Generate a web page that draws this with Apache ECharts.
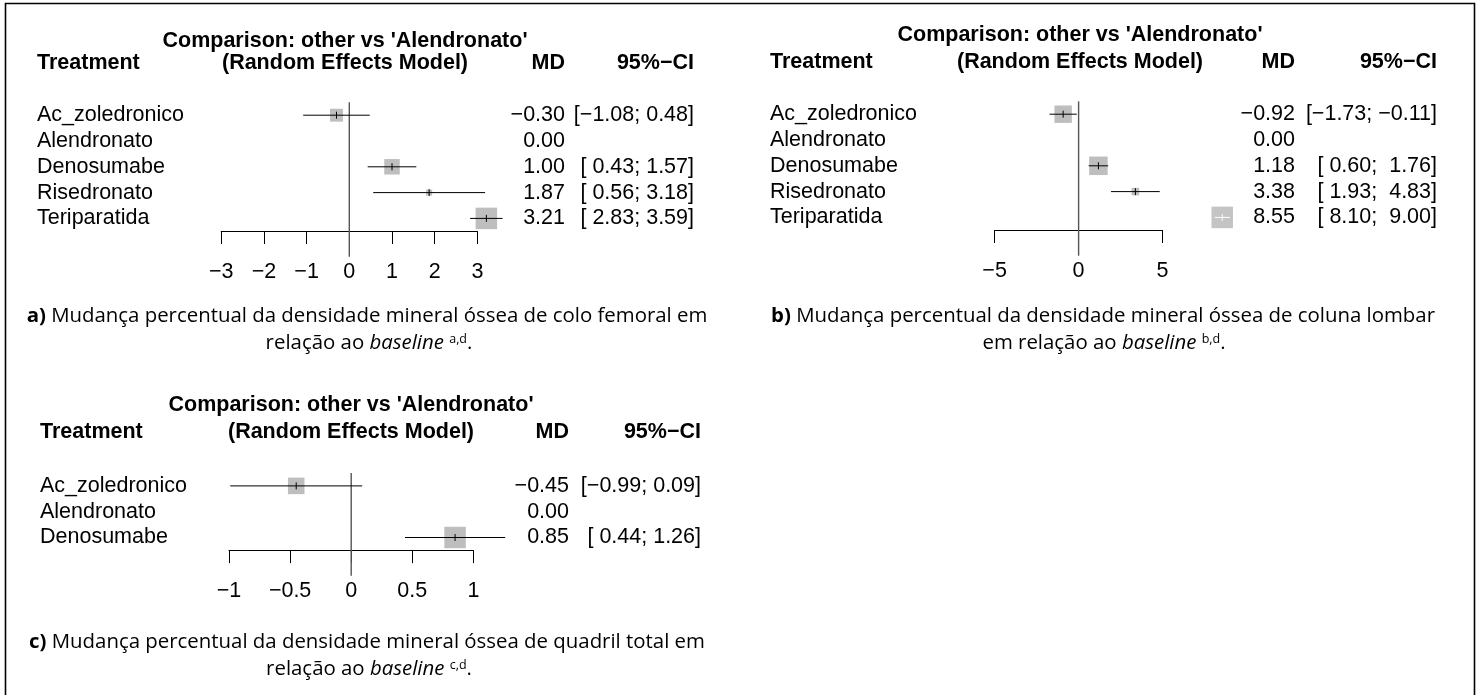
<!DOCTYPE html>
<html>
<head>
<meta charset="utf-8">
<script src="https://cdn.jsdelivr.net/npm/echarts@6/dist/echarts.min.js"></script>
<style>
html,body{margin:0;padding:0;background:#ffffff;}
#chart{width:1479px;height:695px;}
</style>
</head>
<body>
<div id="chart"></div>
<script>
// ---------------- data ----------------
const treatmentsA = ['Ac_zoledronico', 'Alendronato', 'Denosumabe', 'Risedronato', 'Teriparatida'];
const mdA    = [-0.30, 0.00, 1.00, 1.87, 3.21];
const lowerA = [-1.08, null, 0.43, 0.56, 2.83];
const upperA = [ 0.48, null, 1.57, 3.18, 3.59];
const weightA = [0.60, 0, 0.72, 0.28, 1.00];
const ticksA = [-3, -2, -1, 0, 1, 2, 3];

const treatmentsB = ['Ac_zoledronico', 'Alendronato', 'Denosumabe', 'Risedronato', 'Teriparatida'];
const mdB    = [-0.92, 0.00, 1.18, 3.38, 8.55];
const lowerB = [-1.73, null, 0.60, 1.93, 8.10];
const upperB = [-0.11, null, 1.76, 4.83, 9.00];
const weightB = [0.81, 0, 0.86, 0.35, 1.00];
const ticksB = [-5, 0, 5];

const treatmentsC = ['Ac_zoledronico', 'Alendronato', 'Denosumabe'];
const mdC    = [-0.45, 0.00, 0.85];
const lowerC = [-0.99, null, 0.44];
const upperC = [ 0.09, null, 1.26];
const weightC = [0.77, 0, 1.00];
const ticksC = [-1, -0.5, 0, 0.5, 1];

const titleText = "Comparison: other vs 'Alendronato'";
const headTreatment = 'Treatment';
const headModel = '(Random Effects Model)';
const headMD = 'MD';
const headCI = '95%\u2212CI';

const captionA1 = '{b|a)} Mudança percentual da densidade mineral óssea de colo femoral em';
const captionA2 = 'relação ao {i|baseline} {s|a,d}.';
const captionB1 = '{b|b)} Mudança percentual da densidade mineral óssea de coluna lombar';
const captionB2 = 'em relação ao {i|baseline} {s|b,d}.';
const captionC1 = '{b|c)} Mudança percentual da densidade mineral óssea de quadril total em';
const captionC2 = 'relação ao {i|baseline} {s|c,d}.';

// ---------------- helpers ----------------
const RF = '"Liberation Sans", Arial, Helvetica, sans-serif';
const CF = '"Open Sans", Lato, sans-serif';
const FS = 21.5;
const MAXSQ = 21.5;
const minus = s => String(s).replace(/-/g, '\u2212');
const fmt = v => minus(v.toFixed(2));

function ciStrings(lo, hi) {
  const los = lo.map(v => v == null ? null : fmt(v));
  const his = hi.map(v => v == null ? null : fmt(v));
  const wl = Math.max(...los.filter(s => s).map(s => s.length));
  const wh = Math.max(...his.filter(s => s).map(s => s.length));
  return los.map((s, i) => s == null ? '' : '[' + s.padStart(wl, ' ') + '; ' + his[i].padStart(wh, ' ') + ']');
}

const panels = [
  { cats: treatmentsA, md: mdA, lo: lowerA, hi: upperA, w: weightA, ticks: ticksA,
    grid: { left: 221.2, top: 102.3, width: 256.2, height: 129 },
    labelX: 37, mdX: 565, ciX: 694, titleX: 345, titleY: 41, headY: 63 },
  { cats: treatmentsB, md: mdB, lo: lowerB, hi: upperB, w: weightB, ticks: ticksB,
    grid: { left: 994.6, top: 101.3, width: 168, height: 129 },
    labelX: 770, mdX: 1295, ciX: 1437, titleX: 1080, titleY: 35, headY: 62.5 },
  { cats: treatmentsC, md: mdC, lo: lowerC, hi: upperC, w: weightC, ticks: ticksC,
    grid: { left: 229, top: 473, width: 244.4, height: 77.4 },
    labelX: 40, mdX: 569, ciX: 701, titleX: 351, titleY: 405, headY: 432.5 }
];

function txt(text, x, y, align, bold) {
  return { type: 'text', style: { text: text, x: x, y: y, fill: '#000',
    font: (bold ? 'bold ' : '') + FS + 'px ' + RF, align: align, verticalAlign: 'middle' } };
}

function makeRender(p) {
  const ci = ciStrings(p.lo, p.hi);
  return function (params, api) {
    const i = params.dataIndex;
    const md = api.value(0), idx = api.value(1), lo = api.value(2), hi = api.value(3), w = api.value(4);
    const c = api.coord([md, idx]);
    const cs = params.coordSys;
    const y = c[1];
    const ch = [];
    if (i === 0) {
      const zx = api.coord([0, idx])[0];
      ch.push({ type: 'line', shape: { x1: zx, y1: cs.y, x2: zx, y2: cs.y + cs.height + 25.4 },
        style: { stroke: '#555555', lineWidth: 1.4 } });
    }
    ch.push(txt(p.cats[i], p.labelX, y, 'left', false));
    ch.push(txt(fmt(md), p.mdX, y, 'right', false));
    if (ci[i]) ch.push(txt(ci[i], p.ciX, y, 'right', false));
    if (!isNaN(lo) && !isNaN(hi) && w > 0) {
      const s = w * MAXSQ;
      const xl = api.coord([lo, idx])[0], xh = api.coord([hi, idx])[0];
      const inside = xl > c[0] - s / 2 && xh < c[0] + s / 2;
      const col = inside ? '#ffffff' : '#000000';
      ch.push({ type: 'rect', shape: { x: c[0] - s / 2, y: y - s / 2, width: s, height: s },
        style: { fill: inside ? '#c4c4c4' : '#bebebe' } });
      ch.push({ type: 'line', shape: { x1: xl, y1: y, x2: xh, y2: y }, style: { stroke: col, lineWidth: 1 } });
      ch.push({ type: 'line', shape: { x1: c[0], y1: y - 3.5, x2: c[0], y2: y + 3.5 }, style: { stroke: col, lineWidth: 1 } });
    }
    return { type: 'group', children: ch };
  };
}

const grids = [], xAxes = [], yAxes = [], series = [], graphics = [];
panels.forEach((p, k) => {
  grids.push(Object.assign({ containLabel: false }, p.grid));
  xAxes.push({
    gridIndex: k, type: 'value',
    min: p.ticks[0], max: p.ticks[p.ticks.length - 1], interval: p.ticks[1] - p.ticks[0],
    axisLine: { show: true, onZero: false, lineStyle: { color: '#000', width: 1 } },
    axisTick: { show: true, length: 12.7, lineStyle: { color: '#000', width: 1 } },
    splitLine: { show: false },
    axisLabel: { color: '#000', fontFamily: RF, fontSize: FS, margin: 30, formatter: v => minus(v) }
  });
  yAxes.push({ gridIndex: k, type: 'category', data: p.cats, inverse: true, show: false });
  series.push({
    type: 'custom', xAxisIndex: k, yAxisIndex: k, clip: false,
    renderItem: makeRender(p),
    encode: { x: 0, y: 1 },
    data: p.cats.map((c, i) => [p.md[i], i, p.lo[i] == null ? NaN : p.lo[i], p.hi[i] == null ? NaN : p.hi[i], p.w[i]])
  });
  const hs = (text, x, y, align) => ({ type: 'text', style: { text: text, x: x, y: y, fill: '#000',
    font: 'bold ' + FS + 'px ' + RF, align: align, verticalAlign: 'middle' } });
  graphics.push(hs(titleText, p.titleX, p.titleY, 'center'));
  graphics.push(hs(headTreatment, p.labelX, p.headY, 'left'));
  graphics.push(hs(headModel, p.titleX, p.headY, 'center'));
  graphics.push(hs(headMD, p.mdX, p.headY, 'right'));
  graphics.push(hs(headCI, p.ciX, p.headY, 'right'));
});

const CFS = 20.4;
const richCap = {
  b: { fontFamily: CF, fontSize: CFS, fontWeight: 'bold', fill: '#000' },
  i: { fontFamily: CF, fontSize: CFS, fontStyle: 'italic', fill: '#000' },
  s: { fontFamily: CF, fontSize: 12.5, verticalAlign: 'top', fill: '#000' }
};
function cap(text, x, y) {
  return { type: 'text', x: x, y: y, style: { text: text, fontFamily: CF, fontSize: CFS, fill: '#000',
    align: 'center', verticalAlign: 'middle', rich: richCap } };
}
graphics.push(cap(captionA1, 367, 316));
graphics.push(cap(captionA2, 369, 343));
graphics.push(cap(captionB1, 1103, 316));
graphics.push(cap(captionB2, 1104, 343));
graphics.push(cap(captionC1, 367, 642));
graphics.push(cap(captionC2, 369, 669));

graphics.push({ type: 'rect', shape: { x: 5.5, y: 3.5, width: 1469, height: 730 },
  style: { fill: 'none', stroke: '#000', lineWidth: 1.6 }, z: -1 });

const chart = echarts.init(document.getElementById('chart'), null, { renderer: 'canvas' });
chart.setOption({
  animation: false,
  backgroundColor: '#ffffff',
  grid: grids, xAxis: xAxes, yAxis: yAxes, series: series, graphic: graphics
});
</script>
</body>
</html>
